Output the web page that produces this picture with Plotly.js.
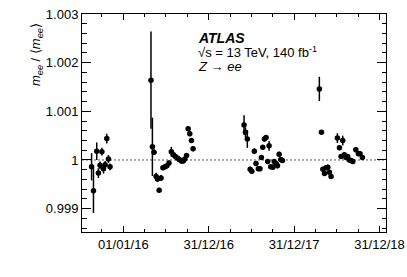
<!DOCTYPE html>
<html>
<head>
<meta charset="utf-8">
<script src="https://cdn.plot.ly/plotly-3.0.1.min.js"></script>
<style>html,body{margin:0;padding:0;background:#fff;}#chart{width:407px;height:277px;}</style>
</head>
<body>
<div id="chart"></div>
<script>
// 2015
var dates2015 = ['2015-08-18','2015-08-26','2015-09-09','2015-09-16','2015-09-23','2015-10-01','2015-10-08','2015-10-15','2015-10-22','2015-10-29','2015-11-05'];
var ratio2015 = [0.99986,0.99937,1.00018,0.99973,0.99989,1.00017,0.99982,0.99990,1.00044,1.00002,0.99986];
var err2015   = [0.00028,0.00046,0.00018,0.00010,0.00008,0.00008,0.00010,0.00008,0.00010,0.00008,0.00007];
// 2016
var dates2016 = ['2016-04-28','2016-05-04','2016-05-11','2016-05-20','2016-05-26','2016-06-02','2016-06-10','2016-06-18','2016-06-27','2016-07-05','2016-07-14','2016-07-24','2016-08-02','2016-08-10','2016-08-19','2016-08-27','2016-09-05','2016-09-13','2016-09-20','2016-09-27','2016-10-04','2016-10-11','2016-10-18','2016-10-25'];
var ratio2016 = [1.00164,1.00027,1.00016,0.99966,0.99961,0.99938,0.99963,0.99984,0.99986,0.99988,0.99994,1.00017,1.00011,1.00007,1.00004,1.00001,0.99998,0.99998,1.00002,1.00009,1.00064,1.00054,1.00040,1.00023];
var err2016   = [0.00100,0.00060,0.00006,0.00008,0.00006,0.00005,0.00006,0.00005,0.00005,0.00005,0.00005,0.00010,0.00005,0.00005,0.00005,0.00005,0.00005,0.00005,0.00005,0.00005,0.00005,0.00005,0.00005,0.00005];
// 2017
var dates2017 = ['2017-05-31','2017-06-06','2017-06-14','2017-06-26','2017-07-03','2017-07-14','2017-07-21','2017-07-31','2017-08-07','2017-08-13','2017-08-19','2017-08-26','2017-09-02','2017-09-09','2017-09-15','2017-09-22','2017-10-01','2017-10-07','2017-10-15','2017-10-21','2017-10-28','2017-11-04','2017-11-11'];
var ratio2017 = [1.00072,1.00057,1.00043,0.99981,0.99977,1.00018,0.99993,0.99982,0.99982,1.00005,1.00026,1.00043,1.00046,0.99997,1.00029,0.99986,0.99985,0.99997,0.99993,0.99988,1.00012,1.00001,0.99999];
var err2017   = [0.00020,0.00010,0.00018,0.00005,0.00005,0.00006,0.00005,0.00005,0.00005,0.00005,0.00005,0.00005,0.00005,0.00005,0.00010,0.00005,0.00005,0.00005,0.00005,0.00005,0.00005,0.00005,0.00005];
// 2018
var dates2018 = ['2018-04-18','2018-04-27','2018-05-03','2018-05-10','2018-05-17','2018-05-24','2018-05-31','2018-06-07','2018-07-04','2018-07-13','2018-07-20','2018-07-27','2018-08-03','2018-08-10','2018-08-17','2018-08-24','2018-09-01','2018-09-08','2018-09-21','2018-10-02','2018-10-09','2018-10-19'];
var ratio2018 = [1.00146,1.00057,0.99981,0.99972,0.99984,0.99985,0.99975,0.99966,1.00045,1.00025,1.00007,1.00040,1.00011,1.00005,1.00007,1.00000,0.99999,0.99997,1.00021,1.00013,1.00013,1.00005];
var err2018   = [0.00025,0.00004,0.00005,0.00005,0.00005,0.00005,0.00005,0.00005,0.00010,0.00005,0.00005,0.00010,0.00005,0.00005,0.00005,0.00005,0.00005,0.00005,0.00005,0.00005,0.00005,0.00005];

var xTickVals = ['2016-01-01','2016-12-31','2017-12-31','2018-12-31'];
var xTickText = ['01/01/16','31/12/16','31/12/17','31/12/18'];
var yTickVals = [0.999,1.000,1.001,1.002,1.003];
var yTickText = ['0.999','1','1.001','1.002','1.003'];

var allDates = dates2015.concat(dates2016, dates2017, dates2018);
var allRatio = ratio2015.concat(ratio2016, ratio2017, ratio2018);
var allErr = err2015.concat(err2016, err2017, err2018);

var trace = {
  x: allDates, y: allRatio, type: 'scatter', mode: 'markers',
  marker: {color: 'black', size: 5.5},
  error_y: {type: 'data', array: allErr, visible: true, color: 'black', thickness: 1.5, width: 0},
  hoverinfo: 'skip'
};

var font = {family: 'Liberation Sans, Arial, sans-serif', size: 13, color: 'black'};

var layout = {
  width: 407, height: 277,
  margin: {l: 82, r: 21, t: 14, b: 45},
  paper_bgcolor: 'white', plot_bgcolor: 'white',
  showlegend: false,
  font: font,
  xaxis: {
    type: 'date', range: ['2015-07-08','2019-01-28'],
    tickmode: 'array', tickvals: xTickVals, ticktext: xTickText,
    ticks: 'inside', ticklen: 6, tickwidth: 1, tickcolor: 'black',
    minor: {tickmode: 'linear', dtick: 'M3', tick0: '2016-01-01', ticks: 'inside', ticklen: 3, tickcolor: 'black', showgrid: false},
    showline: true, linecolor: 'black', linewidth: 1, mirror: 'allticks',
    showgrid: false, zeroline: false, tickfont: font
  },
  yaxis: {
    range: [0.99852, 1.003],
    tickmode: 'array', tickvals: yTickVals, ticktext: yTickText,
    ticks: 'inside', ticklen: 9, tickwidth: 1, tickcolor: 'black',
    minor: {tickmode: 'linear', dtick: 0.0002, tick0: 1, ticks: 'inside', ticklen: 4.5, tickcolor: 'black', showgrid: false},
    showline: true, linecolor: 'black', linewidth: 1, mirror: 'allticks',
    showgrid: false, zeroline: false, tickfont: font
  },
  shapes: [{
    type: 'line', xref: 'paper', x0: 0, x1: 1, yref: 'y', y0: 1, y1: 1,
    line: {color: '#555', width: 1, dash: '2px,2px'}, layer: 'below'
  }],
  annotations: [
    {text: '<b><i>ATLAS</i></b>', xref: 'paper', yref: 'paper', x: 0.375, y: 0.89, xanchor: 'left', yanchor: 'middle', showarrow: false, font: {family: font.family, size: 14, color: 'black'}},
    {text: '√s = 13 TeV, 140 fb<sup>-1</sup>', xref: 'paper', yref: 'paper', x: 0.375, y: 0.826, xanchor: 'left', yanchor: 'middle', showarrow: false, font: font},
    {text: '<i>Z</i> → <i>ee</i>', xref: 'paper', yref: 'paper', x: 0.375, y: 0.761, xanchor: 'left', yanchor: 'middle', showarrow: false, font: font},
    {text: '<i>m</i><sub><i>ee</i></sub> / ⟨<i>m</i><sub><i>ee</i></sub>⟩', xref: 'paper', yref: 'paper', x: -0.148, y: 0.812, xanchor: 'center', yanchor: 'middle', textangle: -90, showarrow: false, font: font}
  ]
};

Plotly.newPlot('chart', [trace], layout, {staticPlot: true, displayModeBar: false});
</script>
</body>
</html>
